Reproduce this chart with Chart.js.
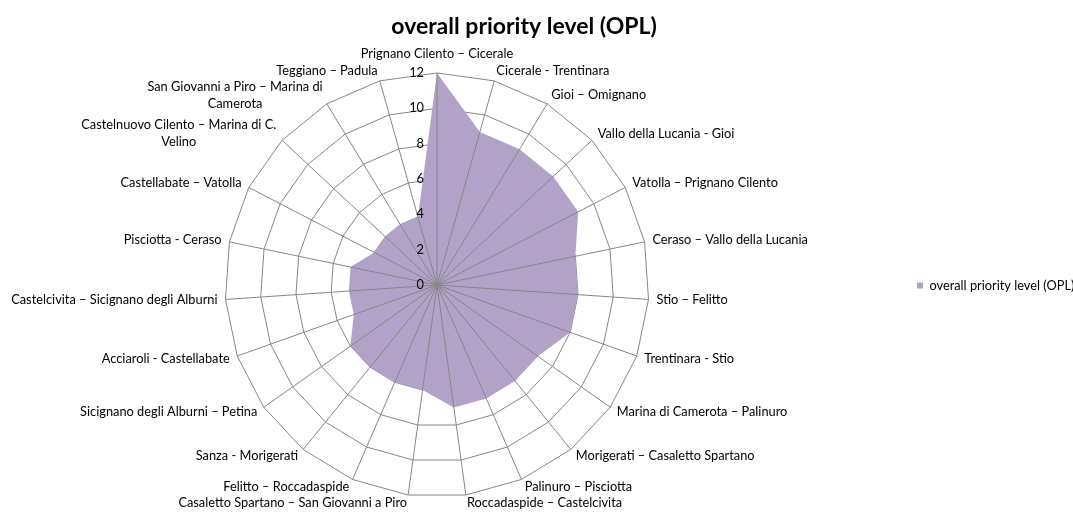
<!DOCTYPE html>
<html>
<head>
<meta charset="utf-8">
<script src="https://cdn.jsdelivr.net/npm/chart.js@4.4.0/dist/chart.umd.min.js"></script>
<style>
    html, body { margin: 0; padding: 0; background: #ffffff; }
    #wrap { position: relative; width: 1073px; height: 512px; }
</style>
</head>
<body>
<div id="wrap">
    <canvas id="myChart" width="1073" height="512"></canvas>
</div>
<script>
// Routes, clockwise from the top
const categories = [
    'Prignano Cilento – Cicerale',
    'Cicerale - Trentinara',
    'Gioi – Omignano',
    'Vallo della Lucania - Gioi',
    'Vatolla – Prignano Cilento',
    'Ceraso – Vallo della Lucania',
    'Stio – Felitto',
    'Trentinara - Stio',
    'Marina di Camerota – Palinuro',
    'Morigerati – Casaletto Spartano',
    'Palinuro – Pisciotta',
    'Roccadaspide – Castelcivita',
    'Casaletto Spartano – San Giovanni a Piro',
    'Felitto – Roccadaspide',
    'Sanza - Morigerati',
    'Sicignano degli Alburni – Petina',
    'Acciaroli - Castellabate',
    'Castelcivita – Sicignano degli Alburni',
    'Pisciotta - Ceraso',
    'Castellabate – Vatolla',
    ['Castelnuovo Cilento – Marina di C.', 'Velino'],
    ['San Giovanni a Piro – Marina di', 'Camerota'],
    'Teggiano – Padula'
];
const oplValues = [12, 9, 9, 9, 9, 8, 8, 8, 7, 7, 7, 7, 6, 6, 6, 6, 5, 5, 5, 4, 4, 4, 4];
const tickValues = [0, 2, 4, 6, 8, 10, 12];
const seriesName = 'overall priority level (OPL)';
const chartTitle = 'overall priority level (OPL)';

const fontFamily = 'Lato';
const labelSize = 12.8;
const gridColour = '#868686';
const fillColour = '#B3A2C7';

// Draws the spokes over the fill, the tick numbers and the category labels
const radarExtras = {
    id: 'radarExtras',
    afterDatasetsDraw(chart) {
        const scale = chart.scales.r;
        const ctx = chart.ctx;
        ctx.save();

        ctx.strokeStyle = gridColour;
        ctx.lineWidth = 1;
        categories.forEach((label, i) => {
            const p = scale.getPointPosition(i, scale.drawingArea);
            ctx.beginPath();
            ctx.moveTo(scale.xCenter, scale.yCenter);
            ctx.lineTo(p.x, p.y);
            ctx.stroke();
        });

        // tick labels sit just left of the top spoke
        ctx.fillStyle = '#000000';
        ctx.font = labelSize + 'px ' + fontFamily;
        ctx.textAlign = 'right';
        ctx.textBaseline = 'middle';
        tickValues.forEach((v) => {
            const y = scale.yCenter - scale.getDistanceFromCenterForValue(v);
            ctx.fillText(String(v), scale.xCenter - 13, y);
        });

        const lineHeight = 16.7;
        categories.forEach((label, i) => {
            const lines = Array.isArray(label) ? label : [label];
            const angle = scale.getIndexAngle(i);
            const s = Math.sin(angle);
            const c = Math.cos(angle);
            const p = scale.getPointPosition(i, scale.drawingArea + 8);
            let y = p.y - 2 * Math.max(c, 0);
            const align = s > 0.02 ? 'left' : (s < -0.02 ? 'right' : 'center');
            if (align === 'center' && c > 0) {
                y -= 9;
            }
            // multi-line labels are centred on each other
            const blockW = Math.max(...lines.map((t) => ctx.measureText(t).width));
            let blockCentre = p.x;
            if (align === 'left') blockCentre = p.x + blockW / 2;
            if (align === 'right') blockCentre = p.x - blockW / 2;
            const top = y - (lines.length - 1) * lineHeight / 2;
            ctx.textAlign = 'center';
            lines.forEach((t, k) => {
                ctx.fillText(t, blockCentre, top + k * lineHeight);
            });
        });

        ctx.restore();
    }
};

const chart = new Chart(document.getElementById('myChart'), {
    type: 'radar',
    data: {
        labels: categories,
        datasets: [{
            label: seriesName,
            data: oplValues,
            backgroundColor: fillColour,
            borderWidth: 0,
            pointRadius: 0,
            fill: true
        }]
    },
    options: {
        responsive: false,
        animation: false,
        layout: {
            padding: { left: -25, right: 0, top: 0, bottom: 14 }
        },
        plugins: {
            tooltip: { enabled: false },
            title: {
                display: true,
                text: chartTitle,
                color: '#000000',
                font: { family: fontFamily, size: 23, weight: 'bold' },
                padding: { top: 13, bottom: 32.4 }
            },
            legend: {
                position: 'right',
                align: 'center',
                fullSize: false,
                maxWidth: 199,
                labels: {
                    boxWidth: 6,
                    boxHeight: 6,
                    padding: 43,
                    color: '#000000',
                    font: { family: fontFamily, size: labelSize }
                }
            }
        },
        scales: {
            r: {
                min: 0,
                max: 12,
                ticks: { stepSize: 2, display: false },
                pointLabels: { display: false },
                grid: { color: gridColour, lineWidth: 1, circular: false },
                angleLines: { display: false }
            }
        }
    },
    plugins: [radarExtras]
});
</script>
</body>
</html>
